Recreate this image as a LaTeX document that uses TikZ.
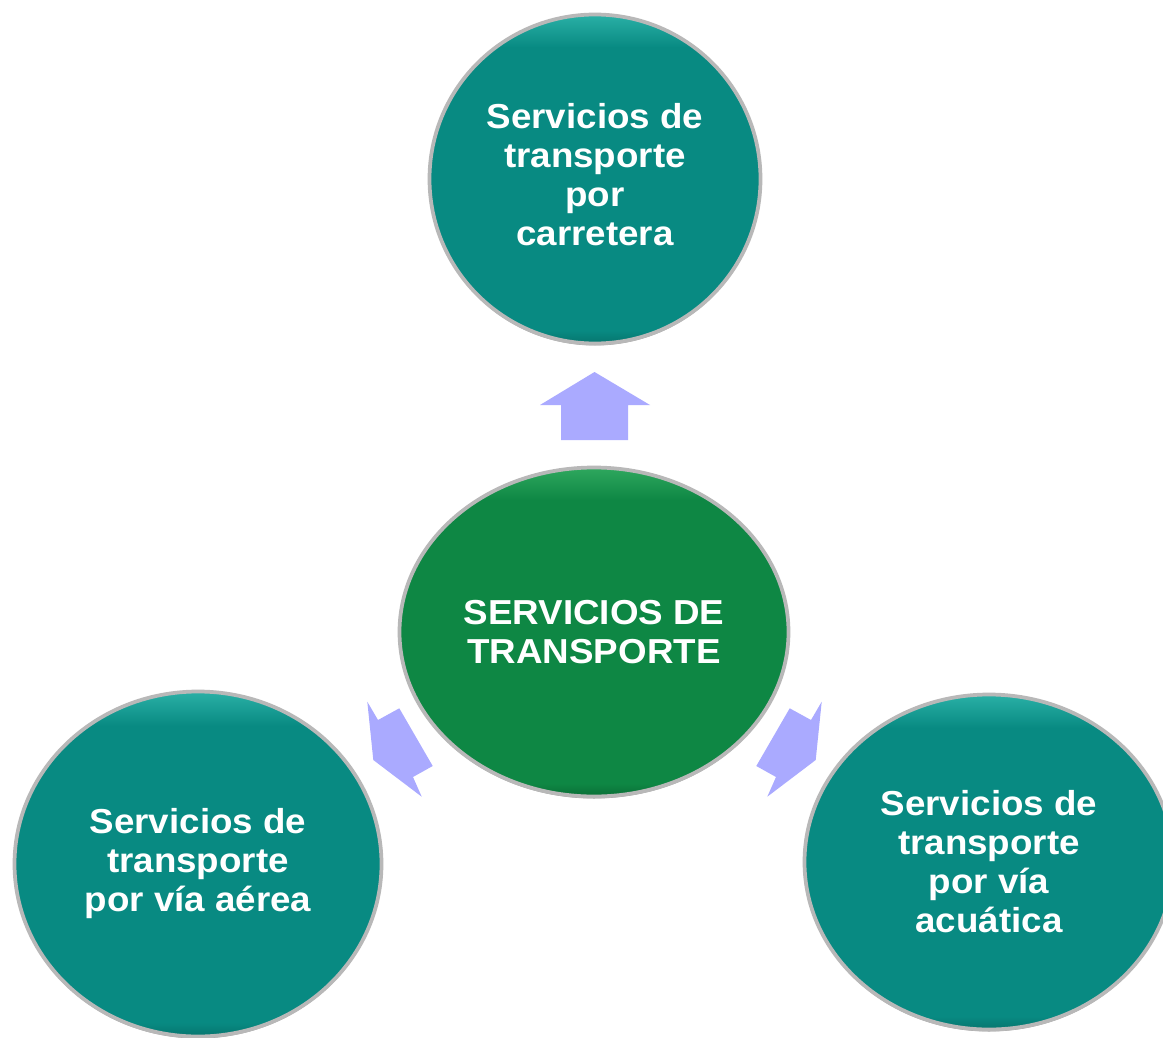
\documentclass[tikz,border=0pt]{standalone}
\usepackage{fontspec}
\setmainfont{Liberation Sans}[FakeStretch=1.06]
\usetikzlibrary{shapes.geometric,shadows}
\definecolor{tealM}{HTML}{088A82}
\definecolor{tealT}{HTML}{2AB0A6}
\definecolor{tealB}{HTML}{06756E}
\definecolor{greenM}{HTML}{0E8744}
\definecolor{greenT}{HTML}{2EA85E}
\definecolor{greenB}{HTML}{0A6E37}
\definecolor{arrowC}{HTML}{AAAAFF}
\definecolor{rimC}{HTML}{B8B8B8}
\pgfdeclareverticalshading{tealsh}{100bp}{color(0bp)=(tealB); color(25bp)=(tealB); color(27bp)=(tealM); color(70bp)=(tealM); color(75bp)=(tealT); color(100bp)=(tealT)}
\pgfdeclareverticalshading{greensh}{100bp}{color(0bp)=(greenB); color(25bp)=(greenB); color(27bp)=(greenM); color(70bp)=(greenM); color(75bp)=(greenT); color(100bp)=(greenT)}
\tikzset{
  bubble/.style={ellipse, inner sep=0pt, draw=rimC, line width=2.8pt,
    drop shadow={shadow xshift=0pt, shadow yshift=-1.5pt, opacity=.35, fill=black},
    text=white, align=center, font=\bfseries\fontsize{26}{29.25}\selectfont},
  tealbubble/.style={bubble, shading=tealsh},
  greenbubble/.style={bubble, shading=greensh},
  blockarrow/.style={fill=arrowC, draw=none}
}
\begin{document}
\begin{tikzpicture}[x=0.75pt, y=-0.75pt]
\useasboundingbox[fill=white] (0,0) rectangle (1163,1038);

% block arrows
\fill[blockarrow] (594.5,372) -- (650,405) -- (628,405) -- (628,440) -- (561,440) -- (561,405) -- (540,405) -- cycle;
\fill[blockarrow] (373.3,760) -- (367.3,701.7) -- (378,720) -- (399.3,708.3) -- (432.7,766) -- (413,777) -- (421.7,796.7) -- cycle;
\fill[blockarrow] (815.7,760) -- (821.7,701.7) -- (811,720) -- (789.7,708.3) -- (756.3,766) -- (776,777) -- (767.3,796.7) -- cycle;

% bubbles
\node[tealbubble, minimum width=331*0.75pt, minimum height=329*0.75pt] (top) at (595,179)
  {\raisebox{2.2pt}{\begin{tabular}{@{}c@{}}Servicios de\\transporte\\por\\carretera\end{tabular}}};
\node[greenbubble, minimum width=389*0.75pt, minimum height=329*0.75pt] (center) at (594,632)
  {SERVICIOS DE\\TRANSPORTE};
\node[tealbubble, minimum width=367*0.75pt, minimum height=345*0.75pt] (air) at (198,864)
  {Servicios de\\transporte\\por vía aérea};
\node[tealbubble, minimum width=369*0.75pt, minimum height=335*0.75pt] (water) at (989,862)
  {Servicios de\\transporte\\por vía\\acuática};
\end{tikzpicture}
\end{document}
